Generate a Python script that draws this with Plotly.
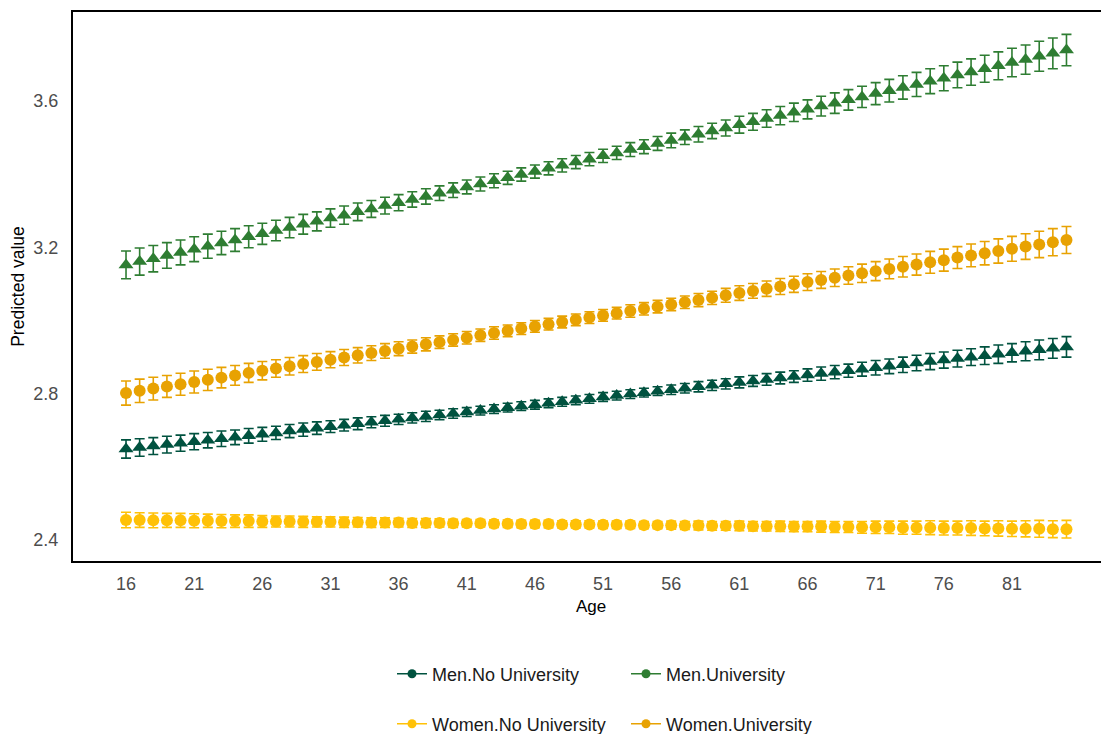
import plotly.graph_objects as go

ages = list(range(16, 86))

men_no_uni = [2.649, 2.653, 2.657, 2.661, 2.665, 2.669, 2.673, 2.677, 2.681, 2.685,
              2.689, 2.693, 2.698, 2.702, 2.706, 2.710, 2.714, 2.718, 2.722, 2.726,
              2.730, 2.734, 2.738, 2.742, 2.746, 2.750, 2.754, 2.758, 2.762, 2.766,
              2.770, 2.774, 2.778, 2.782, 2.786, 2.791, 2.795, 2.799, 2.803, 2.807,
              2.811, 2.815, 2.819, 2.823, 2.827, 2.831, 2.835, 2.839, 2.843, 2.847,
              2.851, 2.855, 2.859, 2.863, 2.867, 2.871, 2.875, 2.879, 2.884, 2.888,
              2.892, 2.896, 2.900, 2.904, 2.908, 2.912, 2.916, 2.920, 2.924, 2.928]
men_no_uni_err = [0.025, 0.024, 0.023, 0.023, 0.022, 0.022, 0.021, 0.021, 0.020, 0.020,
                  0.019, 0.018, 0.018, 0.018, 0.017, 0.016, 0.016, 0.016, 0.015, 0.015,
                  0.014, 0.014, 0.014, 0.013, 0.013, 0.012, 0.012, 0.012, 0.012, 0.012,
                  0.012, 0.012, 0.012, 0.012, 0.012, 0.012, 0.012, 0.012, 0.012, 0.012,
                  0.013, 0.013, 0.014, 0.014, 0.014, 0.015, 0.015, 0.016, 0.016, 0.016,
                  0.017, 0.018, 0.018, 0.018, 0.019, 0.020, 0.020, 0.021, 0.021, 0.022,
                  0.022, 0.023, 0.023, 0.024, 0.025, 0.025, 0.026, 0.027, 0.027, 0.028]

men_uni = [3.152, 3.161, 3.169, 3.178, 3.186, 3.195, 3.203, 3.212, 3.220, 3.229,
           3.237, 3.246, 3.254, 3.263, 3.271, 3.280, 3.288, 3.297, 3.305, 3.314,
           3.322, 3.331, 3.339, 3.348, 3.356, 3.365, 3.373, 3.382, 3.390, 3.399,
           3.407, 3.416, 3.424, 3.433, 3.441, 3.450, 3.458, 3.467, 3.475, 3.484,
           3.492, 3.501, 3.509, 3.518, 3.526, 3.535, 3.543, 3.552, 3.560, 3.569,
           3.577, 3.586, 3.594, 3.603, 3.611, 3.620, 3.628, 3.637, 3.645, 3.654,
           3.662, 3.671, 3.679, 3.688, 3.696, 3.705, 3.713, 3.722, 3.730, 3.739]
men_uni_err = [0.038, 0.037, 0.036, 0.035, 0.034, 0.034, 0.033, 0.032, 0.031, 0.030,
               0.029, 0.028, 0.028, 0.027, 0.026, 0.025, 0.025, 0.024, 0.023, 0.023,
               0.022, 0.021, 0.021, 0.020, 0.020, 0.019, 0.019, 0.019, 0.018, 0.018,
               0.018, 0.018, 0.018, 0.018, 0.018, 0.018, 0.018, 0.019, 0.019, 0.019,
               0.020, 0.020, 0.021, 0.021, 0.022, 0.023, 0.023, 0.024, 0.025, 0.025,
               0.026, 0.027, 0.028, 0.028, 0.029, 0.030, 0.031, 0.032, 0.033, 0.034,
               0.034, 0.035, 0.036, 0.037, 0.038, 0.039, 0.040, 0.041, 0.042, 0.043]

women_no_uni = [2.455, 2.455, 2.454, 2.454, 2.454, 2.453, 2.453, 2.452, 2.452, 2.452,
                2.451, 2.451, 2.451, 2.450, 2.450, 2.450, 2.449, 2.449, 2.448, 2.448,
                2.448, 2.447, 2.447, 2.447, 2.446, 2.446, 2.446, 2.445, 2.445, 2.444,
                2.444, 2.444, 2.443, 2.443, 2.443, 2.442, 2.442, 2.442, 2.441, 2.441,
                2.441, 2.440, 2.440, 2.439, 2.439, 2.439, 2.438, 2.438, 2.438, 2.437,
                2.437, 2.437, 2.436, 2.436, 2.435, 2.435, 2.435, 2.434, 2.434, 2.434,
                2.433, 2.433, 2.433, 2.432, 2.432, 2.431, 2.431, 2.431, 2.430, 2.430]
women_no_uni_err = [0.021, 0.020, 0.020, 0.019, 0.019, 0.019, 0.018, 0.018, 0.017, 0.017,
                    0.016, 0.015, 0.015, 0.015, 0.014, 0.014, 0.014, 0.013, 0.013, 0.013,
                    0.012, 0.012, 0.012, 0.011, 0.011, 0.010, 0.010, 0.010, 0.010, 0.010,
                    0.010, 0.010, 0.010, 0.010, 0.010, 0.010, 0.010, 0.010, 0.010, 0.010,
                    0.011, 0.011, 0.012, 0.012, 0.012, 0.013, 0.013, 0.013, 0.014, 0.014,
                    0.014, 0.015, 0.015, 0.015, 0.016, 0.017, 0.017, 0.018, 0.018, 0.019,
                    0.019, 0.019, 0.020, 0.020, 0.021, 0.021, 0.022, 0.023, 0.023, 0.024]

women_uni = [2.802, 2.808, 2.814, 2.820, 2.826, 2.832, 2.838, 2.844, 2.850, 2.857,
             2.863, 2.869, 2.875, 2.881, 2.887, 2.893, 2.899, 2.905, 2.911, 2.917,
             2.923, 2.929, 2.935, 2.941, 2.947, 2.953, 2.960, 2.966, 2.972, 2.978,
             2.984, 2.990, 2.996, 3.002, 3.008, 3.014, 3.020, 3.026, 3.032, 3.038,
             3.044, 3.050, 3.056, 3.062, 3.069, 3.075, 3.081, 3.087, 3.093, 3.099,
             3.105, 3.111, 3.117, 3.123, 3.129, 3.135, 3.141, 3.147, 3.153, 3.159,
             3.165, 3.172, 3.178, 3.184, 3.190, 3.196, 3.202, 3.208, 3.214, 3.220]
women_uni_err = [0.033, 0.032, 0.031, 0.030, 0.030, 0.030, 0.029, 0.028, 0.027, 0.026,
                 0.025, 0.024, 0.024, 0.023, 0.023, 0.022, 0.022, 0.021, 0.020, 0.020,
                 0.019, 0.018, 0.018, 0.017, 0.017, 0.017, 0.017, 0.017, 0.016, 0.016,
                 0.016, 0.016, 0.016, 0.016, 0.016, 0.016, 0.016, 0.017, 0.017, 0.017,
                 0.017, 0.017, 0.018, 0.018, 0.019, 0.020, 0.020, 0.021, 0.022, 0.022,
                 0.023, 0.023, 0.024, 0.024, 0.025, 0.026, 0.027, 0.028, 0.029, 0.030,
                 0.030, 0.030, 0.031, 0.032, 0.033, 0.034, 0.035, 0.036, 0.037, 0.037]

series_names = ["Men.No University", "Men.University", "Women.No University", "Women.University"]
series_values = [men_no_uni, men_uni, women_no_uni, women_uni]
series_errors = [men_no_uni_err, men_uni_err, women_no_uni_err, women_uni_err]
series_colors = ["#00523f", "#2e7d32", "#ffc107", "#e8a202"]
series_symbols = ["triangle-up", "triangle-up", "circle", "circle"]
series_sizes = [13, 13, 12, 12]
legend_ids = ["legend", "legend", "legend2", "legend2"]

x_ticks = list(range(16, 86, 5))
y_ticks = [2.4, 2.8, 3.2, 3.6]

FONT = "Liberation Sans, Arial, sans-serif"
W, H = 1101, 726  # page has an 8px body margin

fig = go.Figure()
for name, vals, errs, col, sym, sz in zip(series_names, series_values, series_errors,
                                          series_colors, series_symbols, series_sizes):
    fig.add_trace(go.Scatter(
        x=ages, y=vals, mode="markers", name=name, showlegend=False,
        marker=dict(symbol=sym, size=sz, color=col, line=dict(width=0)),
        error_y=dict(type="data", array=errs, visible=True, color=col,
                     thickness=1.6, width=5),
    ))

for name, col, lg in zip(series_names, series_colors, legend_ids):
    fig.add_trace(go.Scatter(
        x=[None], y=[None], mode="lines+markers", name=name, legend=lg,
        line=dict(color=col, width=1.6),
        marker=dict(symbol="circle", size=9, color=col),
    ))

legend_common = dict(
    orientation="h", xref="container", yref="container",
    xanchor="left", yanchor="middle",
    entrywidth=189, entrywidthmode="pixels",
    font=dict(family=FONT, size=18, color="#1a1a1a"),
    bgcolor="rgba(0,0,0,0)", itemwidth=30,
    tracegroupgap=0,
)

fig.update_layout(
    width=W, height=H,
    margin=dict(l=65, r=0, t=4, b=173, autoexpand=False),
    paper_bgcolor="white", plot_bgcolor="white",
    font=dict(family=FONT),
    showlegend=True,
    legend=dict(x=384 / W, y=1 - 666 / H, **legend_common),
    legend2=dict(x=384 / W, y=1 - 716 / H, **legend_common),
    xaxis=dict(
        range=[12.11, 88.12], tickmode="array", tickvals=x_ticks,
        ticktext=[str(t) for t in x_ticks], automargin=False,
        showgrid=False, zeroline=False,
        showline=True, linecolor="black", linewidth=2, mirror=True,
        ticks="outside", ticklen=5, tickcolor="rgba(0,0,0,0)",
        tickfont=dict(family=FONT, size=18, color="#4d4d4d"),
        title=dict(text="Age", font=dict(family=FONT, size=17, color="black"), standoff=8),
    ),
    yaxis=dict(
        range=[2.343, 3.843], tickmode="array", tickvals=y_ticks,
        ticktext=[f"{t:.1f}" for t in y_ticks], automargin=False,
        showgrid=False, zeroline=False,
        showline=True, linecolor="black", linewidth=2, mirror=False,
        ticks="outside", ticklen=9, tickcolor="rgba(0,0,0,0)",
        tickfont=dict(family=FONT, size=18, color="#4d4d4d"),
        title=dict(text="Predicted value", font=dict(family=FONT, size=17.5, color="black"), standoff=5),
    ),
)

fig.write_html("out.html")
